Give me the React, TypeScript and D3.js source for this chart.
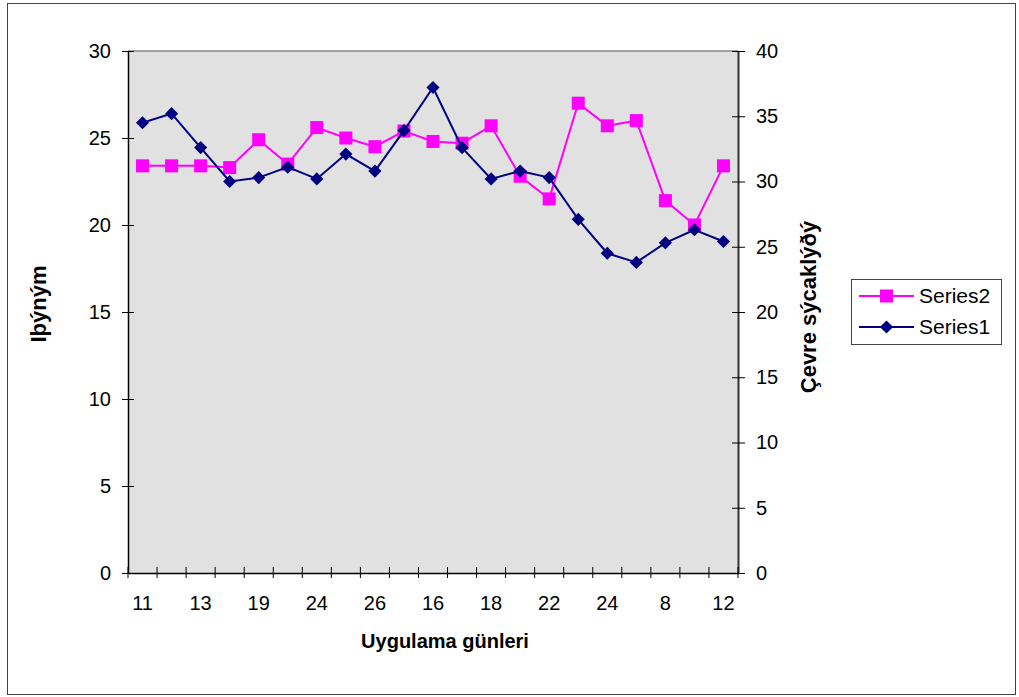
import { useEffect, useRef } from 'react';
import * as d3 from 'd3';

// Days of application (only every other one is labelled on the axis)
const days = [
  '11', '12', '13', '17', '19', '22', '24', '25', '26', '15', '16',
  '17', '18', '20', '22', '23', '24', '30', '8', '10', '12',
];

// Series2 - irradiance (left axis)
const series2 = [
  23.4, 23.4, 23.4, 23.3, 24.9, 23.5, 25.6, 25.0, 24.5, 25.4, 24.8,
  24.7, 25.7, 22.8, 21.5, 27.0, 25.7, 26.0, 21.4, 20.0, 23.4,
];

// Series1 - ambient temperature (right axis)
const series1 = [
  34.5, 35.2, 32.6, 30.0, 30.3, 31.1, 30.2, 32.1, 30.8, 33.9, 37.2,
  32.6, 30.2, 30.8, 30.3, 27.1, 24.5, 23.8, 25.3, 26.3, 25.4,
];

const leftTicks = [0, 5, 10, 15, 20, 25, 30];
const rightTicks = [0, 5, 10, 15, 20, 25, 30, 35, 40];

const FONT = '"Liberation Sans", Arial, sans-serif';

export default function App() {
  const svgRef = useRef<SVGSVGElement>(null);

  useEffect(() => {
    if (!svgRef.current) return;

    const width = 1019;
    const height = 697;
    const plot = { left: 128, right: 738, top: 51, bottom: 573 };

    d3.select(svgRef.current).selectAll('*').remove();

    const svg = d3
      .select(svgRef.current)
      .attr('width', width)
      .attr('height', height)
      .attr('viewBox', `0 0 ${width} ${height}`)
      .style('font-family', FONT);

    // Chart border
    svg
      .append('rect')
      .attr('x', 7.5)
      .attr('y', 3.5)
      .attr('width', 1008)
      .attr('height', 691)
      .attr('fill', '#fff')
      .attr('stroke', '#444')
      .attr('stroke-width', 1);

    const idx = days.map((_, i) => i);
    const x = d3
      .scaleBand<number>()
      .domain(idx)
      .range([plot.left, plot.right]);

    const yLeft = d3
      .scaleLinear()
      .domain([0, 30])
      .range([plot.bottom, plot.top]);

    const yRight = d3
      .scaleLinear()
      .domain([0, 40])
      .range([plot.bottom, plot.top]);

    // Plot area
    svg
      .append('rect')
      .attr('x', plot.left)
      .attr('y', plot.top)
      .attr('width', plot.right - plot.left)
      .attr('height', plot.bottom - plot.top)
      .attr('fill', '#e1e1e1');

    svg
      .append('line')
      .attr('x1', plot.left)
      .attr('x2', plot.right)
      .attr('y1', plot.top)
      .attr('y2', plot.top)
      .attr('stroke', '#8a8a8a')
      .attr('stroke-width', 1.5);

    // Left axis
    const yAxisL = svg
      .append('g')
      .attr('transform', `translate(${plot.left},0)`)
      .call(
        d3
          .axisLeft(yLeft)
          .tickValues(leftTicks)
          .tickSize(6)
          .tickPadding(11)
          .tickSizeOuter(0),
      );
    yAxisL.select('.domain').attr('stroke', '#000').attr('stroke-width', 1.5);
    yAxisL.selectAll('.tick line').attr('x2', -6).attr('x1', 6).attr('stroke', '#000');
    yAxisL
      .selectAll('text')
      .attr('font-size', 20)
      .attr('font-family', FONT)
      .attr('fill', '#000');

    // Right axis
    const yAxisR = svg
      .append('g')
      .attr('transform', `translate(${plot.right},0)`)
      .call(
        d3
          .axisRight(yRight)
          .tickValues(rightTicks)
          .tickSize(7)
          .tickPadding(11)
          .tickSizeOuter(0),
      );
    yAxisR.select('.domain').attr('stroke', '#333').attr('stroke-width', 2);
    yAxisR.selectAll('.tick line').attr('x1', -6).attr('x2', 7).attr('stroke', '#000');
    yAxisR
      .selectAll('text')
      .attr('font-size', 20)
      .attr('font-family', FONT)
      .attr('fill', '#000');

    // Bottom axis: labels on every other category, ticks between categories
    const xAxis = svg
      .append('g')
      .attr('transform', `translate(0,${plot.bottom})`)
      .call(
        d3
          .axisBottom(x)
          .tickValues(idx.filter((i) => i % 2 === 0))
          .tickFormat((i) => days[i as number])
          .tickSize(0)
          .tickPadding(23)
          .tickSizeOuter(0),
      );
    xAxis.select('.domain').attr('stroke', '#000').attr('stroke-width', 1.5);
    xAxis
      .selectAll('text')
      .attr('font-size', 20)
      .attr('font-family', FONT)
      .attr('fill', '#000');

    const bounds = [...idx.map((i) => x(i) as number), plot.right];
    svg
      .append('g')
      .selectAll('line')
      .data(bounds)
      .join('line')
      .attr('x1', (d) => d)
      .attr('x2', (d) => d)
      .attr('y1', plot.bottom - 6)
      .attr('y2', plot.bottom + 5)
      .attr('stroke', '#000')
      .attr('stroke-width', 1);

    const cx = (i: number) => (x(i) as number) + x.bandwidth() / 2;

    // Series2 - magenta squares on left axis
    const line2 = d3
      .line<number>()
      .x((_, i) => cx(i))
      .y((d) => yLeft(d));

    svg
      .append('path')
      .datum(series2)
      .attr('d', line2)
      .attr('fill', 'none')
      .attr('stroke', '#ff00ff')
      .attr('stroke-width', 2);

    svg
      .append('g')
      .selectAll('rect')
      .data(series2)
      .join('rect')
      .attr('x', (_, i) => cx(i) - 6.5)
      .attr('y', (d) => yLeft(d) - 6.5)
      .attr('width', 13)
      .attr('height', 13)
      .attr('fill', '#ff00ff');

    // Series1 - navy diamonds on right axis
    const line1 = d3
      .line<number>()
      .x((_, i) => cx(i))
      .y((d) => yRight(d));

    svg
      .append('path')
      .datum(series1)
      .attr('d', line1)
      .attr('fill', 'none')
      .attr('stroke', '#000080')
      .attr('stroke-width', 2);

    const diamond = d3.symbol().type(d3.symbolDiamond2).size(110);
    svg
      .append('g')
      .selectAll('path')
      .data(series1)
      .join('path')
      .attr('transform', (d, i) => `translate(${cx(i)},${yRight(d)})`)
      .attr('d', diamond)
      .attr('fill', '#000080');

    // Axis titles
    svg
      .append('text')
      .attr('x', (plot.left + plot.right) / 2 + 12)
      .attr('y', 648)
      .attr('text-anchor', 'middle')
      .attr('font-size', 20)
      .attr('font-weight', 'bold')
      .text('Uygulama günleri');

    svg
      .append('text')
      .attr('transform', 'translate(46,304) rotate(-90)')
      .attr('text-anchor', 'middle')
      .attr('font-size', 22)
      .attr('font-weight', 'bold')
      .text('Iþýným');

    svg
      .append('text')
      .attr('transform', 'translate(816,307) rotate(-90)')
      .attr('text-anchor', 'middle')
      .attr('font-size', 22)
      .attr('font-weight', 'bold')
      .text('Çevre sýcaklýðý');

    // Legend
    const legend = svg.append('g').attr('transform', 'translate(851,279)');
    legend
      .append('rect')
      .attr('x', 0.5)
      .attr('y', 0.5)
      .attr('width', 150)
      .attr('height', 65)
      .attr('fill', '#fff')
      .attr('stroke', '#444');

    const entries = [
      { name: 'Series2', color: '#ff00ff', shape: 'square' },
      { name: 'Series1', color: '#000080', shape: 'diamond' },
    ];
    entries.forEach((e, k) => {
      const ly = 17 + k * 31;
      const row = legend.append('g').attr('transform', `translate(0,${ly})`);
      row
        .append('line')
        .attr('x1', 8)
        .attr('x2', 63)
        .attr('y1', 0)
        .attr('y2', 0)
        .attr('stroke', e.color)
        .attr('stroke-width', 2);
      if (e.shape === 'square') {
        row
          .append('rect')
          .attr('x', 29)
          .attr('y', -6.5)
          .attr('width', 13)
          .attr('height', 13)
          .attr('fill', e.color);
      } else {
        row
          .append('path')
          .attr('transform', 'translate(35.5,0)')
          .attr('d', diamond)
          .attr('fill', e.color);
      }
      row
        .append('text')
        .attr('x', 68)
        .attr('y', 0)
        .attr('dy', '0.35em')
        .attr('font-size', 21)
        .text(e.name);
    });
  }, []);

  return (
    <div style={{ position: 'absolute', left: 0, top: 0 }}>
      <svg ref={svgRef} style={{ display: 'block' }} />
    </div>
  );
}
